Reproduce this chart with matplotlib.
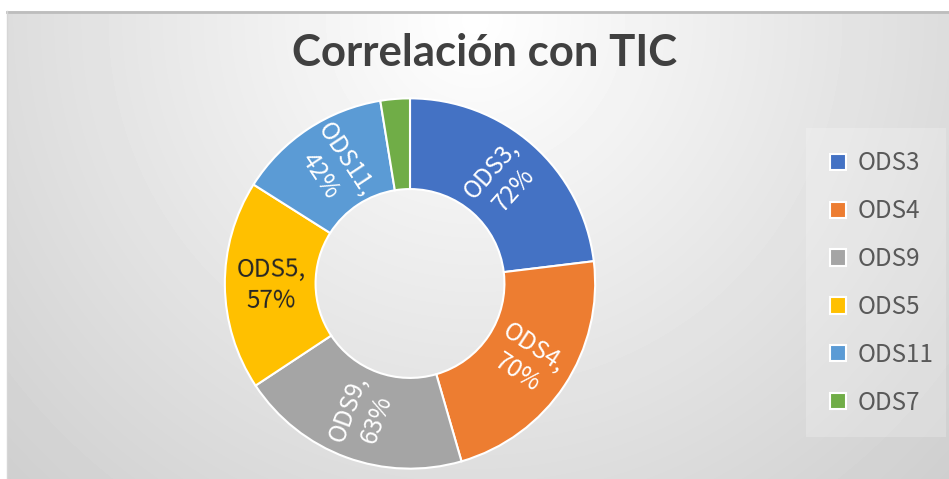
import numpy as np
import matplotlib
matplotlib.use("Agg")
import matplotlib.pyplot as plt
from matplotlib.patches import Rectangle

categories = ["ODS3", "ODS4", "ODS9", "ODS5", "ODS11", "ODS7"]
values = [72, 70, 63, 57, 42, 8]
show_label = [True, True, True, True, True, False]
colors = ["#4472C4", "#ED7D31", "#A5A5A5", "#FFC000", "#5B9BD5", "#70AD47"]
label_colors = ["white", "white", "white", "#262626", "white", "white"]

W, H = 949, 479
fig = plt.figure(figsize=(W / 100, H / 100), dpi=100)

# background: white outside, radial gray gradient inside the chart area
bg = fig.add_axes([0, 0, 1, 1], zorder=-10)
bg.set_xlim(0, W)
bg.set_ylim(H, 0)
bg.axis("off")
yy, xx = np.mgrid[0:H, 0:W]
d = np.hypot(xx - 475, (yy - 20) * 1.0)
img = 1 - 0.19 * np.clip(d / 661, 0, 1)
img[:, :7] = 1.0
img[:11, :] = 1.0
bg.imshow(img, cmap="gray", vmin=0, vmax=1, extent=(0, W, H, 0), aspect="auto",
          interpolation="bilinear")
bg.plot([7, W], [11.5, 11.5], color="#bdbdbd", lw=2)
bg.plot([7.5, 7.5], [11, H], color="#d6d6d6", lw=1)
# legend box
bg.add_patch(Rectangle((806, 128), 140, 309, facecolor="white", alpha=0.22, edgecolor="none"))

# donut
cx, cy, R = 410, 283.5, 187
ax = fig.add_axes([(cx - R) / W, (H - cy - R) / H, 2 * R / W, 2 * R / H])
ax.axis("off")
wedges, _ = ax.pie(values, colors=colors, startangle=90, counterclock=False,
                   radius=1, wedgeprops=dict(width=0.49, edgecolor="white", linewidth=1.5))
ax.set_xlim(-1.01, 1.01)
ax.set_ylim(-1.01, 1.01)

font = ["Noto Sans CJK SC", "DejaVu Sans"]
for w, cat, v, show, lc in zip(wedges, categories, values, show_label, label_colors):
    if not show:
        continue
    theta = (w.theta1 + w.theta2) / 2
    rad = np.deg2rad(theta)
    r = 0.75
    rot = theta % 360
    if 90 < rot < 270:
        rot -= 180
    elif rot >= 270:
        rot -= 360
    ax.text(r * np.cos(rad), r * np.sin(rad), f"{cat},\n{v}%", rotation=rot,
            rotation_mode="anchor", ha="center", va="center", color=lc,
            fontsize=17.5, family=font, fontweight="light", linespacing=1.25)

leg = ax.legend(wedges, categories, loc="center", bbox_to_anchor=(882 / W, 1 - 283 / H),
                bbox_transform=fig.transFigure, frameon=False,
                prop=dict(family=font, size=17.5, weight="light"),
                labelspacing=0.9, handlelength=0.65, handleheight=0.65, handletextpad=0.5)
for t in leg.get_texts():
    t.set_color("#595959")

fig.text(485 / W, 1 - 53 / H, "Correlación con TIC", ha="center", va="center",
         fontsize=31.5, fontweight="bold", family="Lato", color="#404040")

fig.savefig("out.png", dpi=100)
